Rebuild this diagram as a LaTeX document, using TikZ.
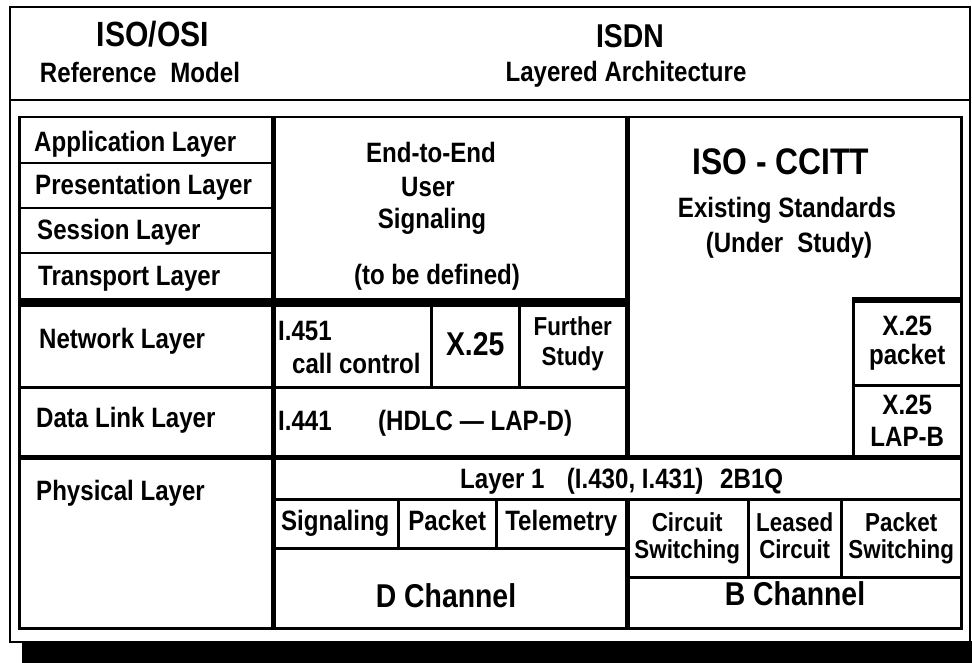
\documentclass[tikz,border=0pt]{standalone}
\usepackage{fontspec}
\setmainfont[FakeStretch=0.86]{Liberation Sans}
\usetikzlibrary{positioning}

\begin{document}
\begin{tikzpicture}[x=1pt, y=-1pt,
  font=\fontsize{28}{29}\selectfont\bfseries,
  cell/.style={draw, line width=2.5pt, anchor=north west, inner sep=0pt, align=center},
  lbl/.style={inner sep=0pt, anchor=base west},
  txt/.style={inner sep=0pt, anchor=base},
  big/.style={font=\fontsize{33}{33}\selectfont\bfseries},
  pair/.style={font=\fontsize{26}{27}\selectfont\bfseries},
  heavy/.style={line width=5.5pt}]
\useasboundingbox (0,0) rectangle (972,663);

% frame, shadow and header
\fill (22,641) rectangle (972,663);
\node[cell, line width=2pt, minimum width=960pt, minimum height=93pt] (head) at (9,6) {};
\node[cell, line width=2pt, minimum width=960pt, minimum height=542pt] (body) at (9,99) {};
\node[txt, font=\fontsize{35}{35}\selectfont\bfseries] (osi) at (153,47) {ISO/OSI};
\node[txt] (refmodel) at (140,83) {Reference\hspace{0.5em}Model};
\node[txt, big] (isdn) at (630,48) {ISDN};
\node[txt] (layered) at (626,82) {Layered Architecture};

% OSI column
\node[cell, minimum width=253pt, minimum height=46pt] (app) at (18,116) {};
\node[cell, minimum width=253pt, minimum height=45pt] (pres) at (18,162) {};
\node[cell, minimum width=253pt, minimum height=45pt] (sess) at (18,207) {};
\node[cell, minimum width=253pt, minimum height=48pt] (trans) at (18,252) {};
\node[cell, minimum width=253pt, minimum height=86pt] (net) at (18,300) {};
\node[cell, minimum width=253pt, minimum height=69pt] (dlink) at (18,386) {};
\node[cell, minimum width=253pt, minimum height=172pt] (phys) at (18,455) {};
\node[lbl] (t-app) at (34,152) {Application Layer};
\node[lbl] (t-pres) at (35,195) {Presentation Layer};
\node[lbl] (t-sess) at (37,240) {Session Layer};
\node[lbl] (t-trans) at (38,285) {Transport Layer};
\node[lbl] (t-net) at (39,348) {Network Layer};
\node[lbl] (t-dlink) at (36,427) {Data Link Layer};
\node[lbl] (t-phys) at (36,500) {Physical Layer};

% ISDN, D channel side
\node[cell, minimum width=354pt, minimum height=184pt] (e2e) at (271,116) {};
\node[txt] (t-end) at (431,163) {End-to-End};
\node[txt] (t-user) at (428,197) {User};
\node[txt] (t-signal) at (432,229) {Signaling};
\node[txt] (t-tbd) at (437,284) {(to be defined)};
\node[cell, minimum width=159pt, minimum height=86pt] (i451) at (271,300) {};
\node[lbl] (t-i451) at (278,340) {I.451};
\node[lbl] (t-call) at (292,373) {call control};
\node[cell, minimum width=88pt, minimum height=86pt, big] (x25) at (430,300) {X.25};
\node[cell, minimum width=107pt, minimum height=86pt, font=\fontsize{26}{30}\selectfont\bfseries] (further) at (518,300) {Further\\Study};
\node[cell, minimum width=354pt, minimum height=69pt] (i441) at (271,386) {};
\node[lbl] (t-i441) at (278,430) {I.441};
\node[lbl] (t-hdlc) at (378,430) {(HDLC --- LAP-D)};

% ISO - CCITT side
\node[cell, minimum width=335pt, minimum height=339pt] (iso) at (625,116) {};
\node[txt, font=\fontsize{37}{37}\selectfont\bfseries] (t-iso) at (781,175) {ISO - CCITT};
\node[txt] (t-exist) at (787,218) {Existing Standards};
\node[txt] (t-under) at (789,253) {(Under\hspace{0.5em}Study)};
\node[cell, minimum width=108pt, minimum height=84pt] (x25p) at (852,300) {X.25\\packet};
\node[cell, minimum width=108pt, minimum height=71pt, font=\fontsize{28}{32}\selectfont\bfseries] (x25b) at (852,384) {X.25\\LAP-B};

% physical layer
\node[cell, minimum width=689pt, minimum height=43pt] (layer1) at (271,455) {};
\node[lbl] (t-layer1) at (460,488) {Layer 1\hspace{0.8em}(I.430, I.431)\hspace{0.6em}2B1Q};
\node[cell, minimum width=126pt, minimum height=49pt] (sig) at (271,498) {Signaling};
\node[cell, minimum width=98pt, minimum height=49pt] (pkt) at (397,498) {Packet\vphantom{g}};
\node[cell, minimum width=130pt, minimum height=49pt] (tele) at (495,498) {Telemetry};
\node[cell, minimum width=354pt, minimum height=80pt] (dch) at (271,547) {};
\node[txt, big] (t-dch) at (446,607) {D Channel};
\node[cell, pair, minimum width=122pt, minimum height=78pt] (circ) at (625,498) {Circuit\\Switching};
\node[cell, pair, minimum width=93pt, minimum height=78pt] (leased) at (747,498) {Leased\\Circuit\vphantom{g}};
\node[cell, pair, minimum width=120pt, minimum height=78pt] (psw) at (840,498) {Packet\\Switching};
\node[cell, minimum width=335pt, minimum height=51pt] (bch) at (625,576) {};
\node[txt, big] (t-bch) at (795,605) {B Channel};

% heavy rules
\draw[heavy] (app.north east) -- (phys.south east);
\draw[heavy] (e2e.north east) -- (i441.south east);
\draw[heavy] (tele.north east) -- (dch.south east);
\draw[line width=9pt] (trans.south west) -- (e2e.south east);
\draw[heavy] (x25p.north west) -- (x25p.north east);
\draw[heavy] (dlink.south west) -- (x25b.south east);
\end{tikzpicture}
\end{document}
